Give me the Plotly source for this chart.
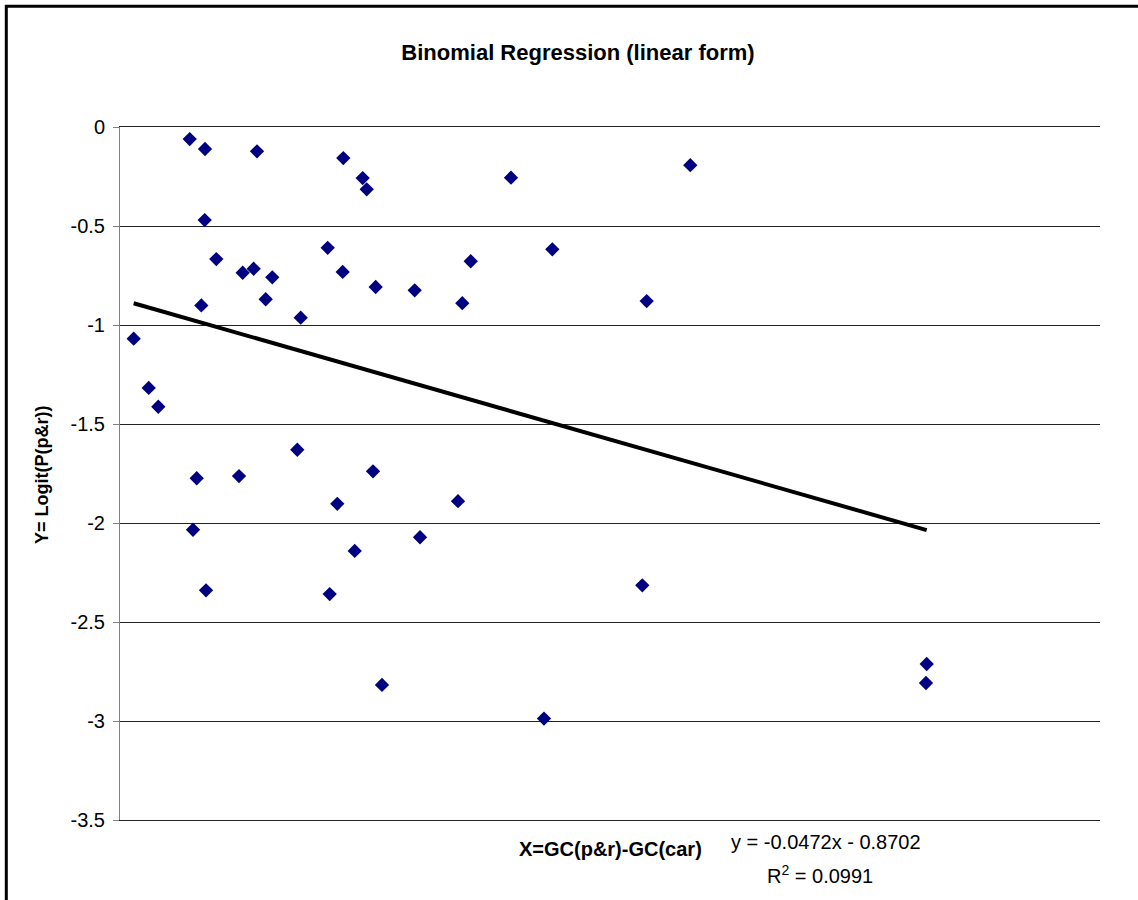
import plotly.graph_objects as go

# ---- data ----
x_vals = [2.134, 2.602, 4.194, 6.836, 7.429, 7.552, 2.593, 6.358, 2.948, 3.756,
          4.093, 4.662, 6.817, 7.827, 4.460, 2.489, 5.532, 0.419, 0.879, 1.172,
          5.427, 2.348, 3.643, 7.745, 6.652, 2.235, 7.185, 2.633, 6.419, 11.969,
          17.458, 13.234, 10.736, 9.021, 10.479, 16.123, 10.347, 9.184, 15.989,
          12.979, 8.020, 24.695, 24.673]
y_vals = [-0.061, -0.111, -0.123, -0.157, -0.258, -0.315, -0.470, -0.610, -0.667, -0.736,
          -0.716, -0.759, -0.732, -0.808, -0.870, -0.901, -0.963, -1.069, -1.318, -1.413,
          -1.630, -1.774, -1.763, -1.739, -1.903, -2.034, -2.141, -2.340, -2.359, -0.256,
          -0.193, -0.618, -0.678, -0.825, -0.890, -0.879, -1.890, -2.072, -2.315,
          -2.988, -2.818, -2.712, -2.808]

slope = -0.0472
intercept = -0.8702
r_squared = 0.0991

y_tick_vals = [0, -0.5, -1, -1.5, -2, -2.5, -3, -3.5]
y_tick_text = ["0", "-0.5", "-1", "-1.5", "-2", "-2.5", "-3", "-3.5"]

title_text = "Binomial Regression (linear form)"
x_title = "X=GC(p&r)-GC(car)"
y_title = "Y= Logit(P(p&r))"

FONT = "Liberation Sans, Arial, sans-serif"

x_min, x_max = min(x_vals), max(x_vals)
trend_x = [x_min, x_max]
trend_y = [slope * v + intercept for v in trend_x]

fig = go.Figure()
fig.add_trace(go.Scatter(
    x=x_vals, y=y_vals, mode="markers",
    marker=dict(symbol="diamond", size=11, color="#000080", line=dict(width=0)),
    showlegend=False, hoverinfo="x+y"))
fig.add_trace(go.Scatter(
    x=trend_x, y=trend_y, mode="lines",
    line=dict(color="black", width=4),
    showlegend=False, hoverinfo="skip"))

fig.update_layout(
    width=1138, height=900,
    margin=dict(l=120, r=38, t=127, b=80, pad=0),
    paper_bgcolor="white", plot_bgcolor="white",
    font=dict(family=FONT, color="black", size=20),
    title=dict(text="<b>" + title_text + "</b>", x=578 / 1138, xref="container",
               y=1 - 52 / 900, yref="container", xanchor="center", yanchor="middle",
               font=dict(size=22, family=FONT, color="black")),
    xaxis=dict(range=[0, 30], showgrid=False, zeroline=False,
               showline=True, mirror=True, linecolor="#222222", linewidth=1,
               showticklabels=False, ticks=""),
    yaxis=dict(range=[-3.5, 0], tickvals=y_tick_vals, ticktext=y_tick_text,
               showgrid=True, gridcolor="#222222", gridwidth=1,
               zeroline=False, showline=True, linecolor="#808080", linewidth=1,
               ticks="outside", ticklen=6, tickcolor="#808080",
               ticklabelstandoff=4,
               tickfont=dict(size=20, family=FONT, color="black")),
    shapes=[dict(type="rect", xref="paper", yref="paper",
                 x0=(6.3 - 120) / 980, x1=1.3, y0=-0.3, y1=1 + (127 - 6.2) / 693,
                 line=dict(color="black", width=3), fillcolor="rgba(0,0,0,0)",
                 layer="above")],
    annotations=[
        dict(text="<b>" + y_title + "</b>", textangle=-90, xref="paper", yref="paper",
             x=(42 - 120) / 980, y=(820 - 475) / 693, xanchor="center", yanchor="middle",
             showarrow=False, font=dict(size=18, family=FONT, color="black")),
        dict(text="<b>" + x_title + "</b>", xref="paper", yref="paper",
             x=0.5, y=(820 - 849) / 693, xanchor="center", yanchor="middle",
             showarrow=False, font=dict(size=20, family=FONT, color="black")),
        dict(text="y = %.4fx - %.4f" % (slope, -intercept), xref="paper", yref="paper",
             x=(826 - 120) / 980, y=(820 - 842) / 693, xanchor="center", yanchor="middle",
             showarrow=False, font=dict(size=20, family=FONT, color="black")),
        dict(text="R<sup>2</sup> = %.4f" % r_squared, xref="paper", yref="paper",
             x=(820 - 120) / 980, y=(820 - 874) / 693, xanchor="center", yanchor="middle",
             showarrow=False, font=dict(size=20, family=FONT, color="black")),
    ],
)

fig.write_html(
    "out.html",
    config={"displayModeBar": False},
    post_script="document.body.style.margin='0';document.body.style.overflow='hidden';",
)
